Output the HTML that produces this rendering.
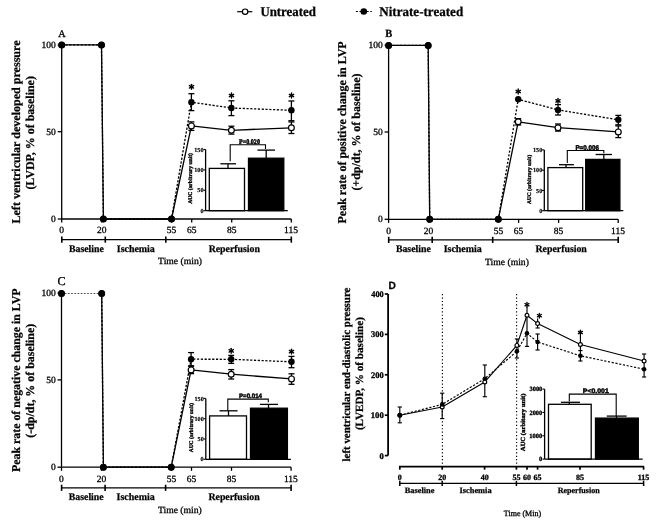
<!DOCTYPE html>
<html><head><meta charset="utf-8"><style>
html,body{margin:0;padding:0;background:#fff;}
svg{display:block;will-change:transform;text-rendering:geometricPrecision;}
</style></head><body>
<svg width="669" height="521" viewBox="0 0 669 521">
<rect width="669" height="521" fill="#fff"/>
<line x1="237.20" y1="11.70" x2="252.30" y2="11.70" stroke="#000" stroke-width="1.2" stroke-linecap="butt"/>
<circle cx="245.10" cy="11.70" r="2.7" fill="#fff" stroke="#000" stroke-width="1.2"/>
<text x="260.39" y="15.60" font-family='"Liberation Serif", serif' font-size="13.5" font-weight="bold" fill="#000" textLength="55.45" lengthAdjust="spacingAndGlyphs" stroke="#000" stroke-width="0.25">Untreated</text>
<line x1="355.90" y1="11.50" x2="371.80" y2="11.50" stroke="#000" stroke-width="1.2" stroke-linecap="butt" stroke-dasharray="2,1.6"/>
<circle cx="363.80" cy="11.50" r="3.3" fill="#000"/>
<text x="379.25" y="15.60" font-family='"Liberation Serif", serif' font-size="13.5" font-weight="bold" fill="#000" textLength="83.90" lengthAdjust="spacingAndGlyphs" stroke="#000" stroke-width="0.25">Nitrate-treated</text>
<text x="58.31" y="36.50" font-family='"Liberation Serif", serif' font-size="10.2" font-weight="normal" fill="#000" textLength="7.36" lengthAdjust="spacingAndGlyphs" stroke="#000" stroke-width="0.3">A</text>
<line x1="61.70" y1="44.90" x2="61.70" y2="219.00" stroke="#000" stroke-width="1.3" stroke-linecap="butt"/>
<line x1="57.70" y1="44.90" x2="61.70" y2="44.90" stroke="#000" stroke-width="1.3" stroke-linecap="butt"/>
<text x="41.61" y="47.80" font-family='"Liberation Serif", serif' font-size="9.5" font-weight="normal" fill="#000" textLength="14.25" lengthAdjust="spacingAndGlyphs" stroke="#000" stroke-width="0.3">100</text>
<line x1="57.70" y1="131.70" x2="61.70" y2="131.70" stroke="#000" stroke-width="1.3" stroke-linecap="butt"/>
<text x="46.36" y="134.60" font-family='"Liberation Serif", serif' font-size="9.5" font-weight="normal" fill="#000" textLength="9.50" lengthAdjust="spacingAndGlyphs" stroke="#000" stroke-width="0.3">50</text>
<line x1="57.70" y1="219.00" x2="61.70" y2="219.00" stroke="#000" stroke-width="1.3" stroke-linecap="butt"/>
<text x="51.11" y="221.90" font-family='"Liberation Serif", serif' font-size="9.5" font-weight="normal" fill="#000" textLength="4.75" lengthAdjust="spacingAndGlyphs" stroke="#000" stroke-width="0.3">0</text>
<line x1="61.70" y1="219.00" x2="291.30" y2="219.00" stroke="#000" stroke-width="1.3" stroke-linecap="butt"/>
<line x1="61.70" y1="219.00" x2="61.70" y2="222.60" stroke="#000" stroke-width="1.3" stroke-linecap="butt"/>
<text x="59.33" y="233.40" font-family='"Liberation Serif", serif' font-size="9.5" font-weight="normal" fill="#000" textLength="4.75" lengthAdjust="spacingAndGlyphs" stroke="#000" stroke-width="0.3">0</text>
<line x1="101.70" y1="219.00" x2="101.70" y2="222.60" stroke="#000" stroke-width="1.3" stroke-linecap="butt"/>
<text x="96.93" y="233.40" font-family='"Liberation Serif", serif' font-size="9.5" font-weight="normal" fill="#000" textLength="9.50" lengthAdjust="spacingAndGlyphs" stroke="#000" stroke-width="0.3">20</text>
<line x1="171.70" y1="219.00" x2="171.70" y2="222.60" stroke="#000" stroke-width="1.3" stroke-linecap="butt"/>
<text x="166.86" y="233.40" font-family='"Liberation Serif", serif' font-size="9.5" font-weight="normal" fill="#000" textLength="9.50" lengthAdjust="spacingAndGlyphs" stroke="#000" stroke-width="0.3">55</text>
<line x1="191.70" y1="219.00" x2="191.70" y2="222.60" stroke="#000" stroke-width="1.3" stroke-linecap="butt"/>
<text x="186.94" y="233.40" font-family='"Liberation Serif", serif' font-size="9.5" font-weight="normal" fill="#000" textLength="9.50" lengthAdjust="spacingAndGlyphs" stroke="#000" stroke-width="0.3">65</text>
<line x1="231.70" y1="219.00" x2="231.70" y2="222.60" stroke="#000" stroke-width="1.3" stroke-linecap="butt"/>
<text x="226.95" y="233.40" font-family='"Liberation Serif", serif' font-size="9.5" font-weight="normal" fill="#000" textLength="9.50" lengthAdjust="spacingAndGlyphs" stroke="#000" stroke-width="0.3">85</text>
<line x1="291.30" y1="219.00" x2="291.30" y2="222.60" stroke="#000" stroke-width="1.3" stroke-linecap="butt"/>
<text x="284.12" y="233.40" font-family='"Liberation Serif", serif' font-size="9.5" font-weight="normal" fill="#000" textLength="13.90" lengthAdjust="spacingAndGlyphs" stroke="#000" stroke-width="0.3">115</text>
<line x1="61.70" y1="239.60" x2="291.30" y2="239.60" stroke="#000" stroke-width="1.3" stroke-linecap="butt"/>
<line x1="61.80" y1="236.50" x2="61.80" y2="242.70" stroke="#000" stroke-width="1.6" stroke-linecap="butt"/>
<line x1="105.30" y1="236.50" x2="105.30" y2="242.70" stroke="#000" stroke-width="1.6" stroke-linecap="butt"/>
<line x1="165.80" y1="236.50" x2="165.80" y2="242.70" stroke="#000" stroke-width="1.6" stroke-linecap="butt"/>
<line x1="291.30" y1="236.50" x2="291.30" y2="242.70" stroke="#000" stroke-width="1.6" stroke-linecap="butt"/>
<text x="69.04" y="251.50" font-family='"Liberation Serif", serif' font-size="10" font-weight="bold" fill="#000" textLength="34.81" lengthAdjust="spacingAndGlyphs" stroke="#000" stroke-width="0.25">Baseline</text>
<text x="116.77" y="251.50" font-family='"Liberation Serif", serif' font-size="10" font-weight="bold" fill="#000" textLength="38.08" lengthAdjust="spacingAndGlyphs" stroke="#000" stroke-width="0.25">Ischemia</text>
<text x="208.63" y="251.50" font-family='"Liberation Serif", serif' font-size="10" font-weight="bold" fill="#000" textLength="51.31" lengthAdjust="spacingAndGlyphs" stroke="#000" stroke-width="0.25">Reperfusion</text>
<text x="158.13" y="264.40" font-family='"Liberation Serif", serif' font-size="9.5" font-weight="normal" fill="#000" textLength="43.89" lengthAdjust="spacingAndGlyphs" stroke="#000" stroke-width="0.3">Time (min)</text>
<text x="20.10" y="223.50" font-family='"Liberation Serif", serif' font-size="12" font-weight="bold" fill="#000" textLength="183.02" lengthAdjust="spacingAndGlyphs" transform="rotate(-90 20.10 223.50)" stroke="#000" stroke-width="0.25">Left ventricular developed pressure</text>
<text x="34.10" y="189.61" font-family='"Liberation Serif", serif' font-size="12" font-weight="bold" fill="#000" textLength="113.54" lengthAdjust="spacingAndGlyphs" transform="rotate(-90 34.10 189.61)" stroke="#000" stroke-width="0.25">(LVDP, % of baseline)</text>
<text x="385.13" y="36.80" font-family='"Liberation Serif", serif' font-size="11" font-weight="bold" fill="#000" textLength="6.95" lengthAdjust="spacingAndGlyphs" stroke="#000" stroke-width="0.25">B</text>
<line x1="388.60" y1="45.20" x2="388.60" y2="219.30" stroke="#000" stroke-width="1.3" stroke-linecap="butt"/>
<line x1="384.60" y1="45.20" x2="388.60" y2="45.20" stroke="#000" stroke-width="1.3" stroke-linecap="butt"/>
<text x="368.51" y="48.10" font-family='"Liberation Serif", serif' font-size="9.5" font-weight="normal" fill="#000" textLength="14.25" lengthAdjust="spacingAndGlyphs" stroke="#000" stroke-width="0.3">100</text>
<line x1="384.60" y1="132.00" x2="388.60" y2="132.00" stroke="#000" stroke-width="1.3" stroke-linecap="butt"/>
<text x="373.26" y="134.90" font-family='"Liberation Serif", serif' font-size="9.5" font-weight="normal" fill="#000" textLength="9.50" lengthAdjust="spacingAndGlyphs" stroke="#000" stroke-width="0.3">50</text>
<line x1="384.60" y1="219.30" x2="388.60" y2="219.30" stroke="#000" stroke-width="1.3" stroke-linecap="butt"/>
<text x="378.01" y="222.20" font-family='"Liberation Serif", serif' font-size="9.5" font-weight="normal" fill="#000" textLength="4.75" lengthAdjust="spacingAndGlyphs" stroke="#000" stroke-width="0.3">0</text>
<line x1="388.60" y1="219.30" x2="618.20" y2="219.30" stroke="#000" stroke-width="1.3" stroke-linecap="butt"/>
<line x1="388.60" y1="219.30" x2="388.60" y2="222.90" stroke="#000" stroke-width="1.3" stroke-linecap="butt"/>
<text x="386.22" y="233.70" font-family='"Liberation Serif", serif' font-size="9.5" font-weight="normal" fill="#000" textLength="4.75" lengthAdjust="spacingAndGlyphs" stroke="#000" stroke-width="0.3">0</text>
<line x1="428.60" y1="219.30" x2="428.60" y2="222.90" stroke="#000" stroke-width="1.3" stroke-linecap="butt"/>
<text x="423.83" y="233.70" font-family='"Liberation Serif", serif' font-size="9.5" font-weight="normal" fill="#000" textLength="9.50" lengthAdjust="spacingAndGlyphs" stroke="#000" stroke-width="0.3">20</text>
<line x1="498.60" y1="219.30" x2="498.60" y2="222.90" stroke="#000" stroke-width="1.3" stroke-linecap="butt"/>
<text x="493.76" y="233.70" font-family='"Liberation Serif", serif' font-size="9.5" font-weight="normal" fill="#000" textLength="9.50" lengthAdjust="spacingAndGlyphs" stroke="#000" stroke-width="0.3">55</text>
<line x1="518.60" y1="219.30" x2="518.60" y2="222.90" stroke="#000" stroke-width="1.3" stroke-linecap="butt"/>
<text x="513.84" y="233.70" font-family='"Liberation Serif", serif' font-size="9.5" font-weight="normal" fill="#000" textLength="9.50" lengthAdjust="spacingAndGlyphs" stroke="#000" stroke-width="0.3">65</text>
<line x1="558.60" y1="219.30" x2="558.60" y2="222.90" stroke="#000" stroke-width="1.3" stroke-linecap="butt"/>
<text x="553.85" y="233.70" font-family='"Liberation Serif", serif' font-size="9.5" font-weight="normal" fill="#000" textLength="9.50" lengthAdjust="spacingAndGlyphs" stroke="#000" stroke-width="0.3">85</text>
<line x1="618.20" y1="219.30" x2="618.20" y2="222.90" stroke="#000" stroke-width="1.3" stroke-linecap="butt"/>
<text x="611.02" y="233.70" font-family='"Liberation Serif", serif' font-size="9.5" font-weight="normal" fill="#000" textLength="13.90" lengthAdjust="spacingAndGlyphs" stroke="#000" stroke-width="0.3">115</text>
<line x1="388.60" y1="239.90" x2="618.20" y2="239.90" stroke="#000" stroke-width="1.3" stroke-linecap="butt"/>
<line x1="388.70" y1="236.80" x2="388.70" y2="243.00" stroke="#000" stroke-width="1.6" stroke-linecap="butt"/>
<line x1="432.20" y1="236.80" x2="432.20" y2="243.00" stroke="#000" stroke-width="1.6" stroke-linecap="butt"/>
<line x1="492.70" y1="236.80" x2="492.70" y2="243.00" stroke="#000" stroke-width="1.6" stroke-linecap="butt"/>
<line x1="618.20" y1="236.80" x2="618.20" y2="243.00" stroke="#000" stroke-width="1.6" stroke-linecap="butt"/>
<text x="395.94" y="251.80" font-family='"Liberation Serif", serif' font-size="10" font-weight="bold" fill="#000" textLength="34.81" lengthAdjust="spacingAndGlyphs" stroke="#000" stroke-width="0.25">Baseline</text>
<text x="443.67" y="251.80" font-family='"Liberation Serif", serif' font-size="10" font-weight="bold" fill="#000" textLength="38.08" lengthAdjust="spacingAndGlyphs" stroke="#000" stroke-width="0.25">Ischemia</text>
<text x="535.53" y="251.80" font-family='"Liberation Serif", serif' font-size="10" font-weight="bold" fill="#000" textLength="51.31" lengthAdjust="spacingAndGlyphs" stroke="#000" stroke-width="0.25">Reperfusion</text>
<text x="485.03" y="264.70" font-family='"Liberation Serif", serif' font-size="9.5" font-weight="normal" fill="#000" textLength="43.89" lengthAdjust="spacingAndGlyphs" stroke="#000" stroke-width="0.3">Time (min)</text>
<text x="346.40" y="223.50" font-family='"Liberation Serif", serif' font-size="12" font-weight="bold" fill="#000" textLength="182.13" lengthAdjust="spacingAndGlyphs" transform="rotate(-90 346.40 223.50)" stroke="#000" stroke-width="0.25">Peak rate of positive change in LVP</text>
<text x="359.90" y="190.61" font-family='"Liberation Serif", serif' font-size="12" font-weight="bold" fill="#000" textLength="117.13" lengthAdjust="spacingAndGlyphs" transform="rotate(-90 359.90 190.61)" stroke="#000" stroke-width="0.25">(+dp/dt, % of baseline)</text>
<text x="57.50" y="285.30" font-family='"Liberation Serif", serif' font-size="12" font-weight="normal" fill="#000" textLength="8.18" lengthAdjust="spacingAndGlyphs" stroke="#000" stroke-width="0.3">C</text>
<line x1="61.50" y1="293.10" x2="61.50" y2="467.20" stroke="#000" stroke-width="1.3" stroke-linecap="butt"/>
<line x1="57.50" y1="293.10" x2="61.50" y2="293.10" stroke="#000" stroke-width="1.3" stroke-linecap="butt"/>
<text x="41.41" y="296.00" font-family='"Liberation Serif", serif' font-size="9.5" font-weight="normal" fill="#000" textLength="14.25" lengthAdjust="spacingAndGlyphs" stroke="#000" stroke-width="0.3">100</text>
<line x1="57.50" y1="379.90" x2="61.50" y2="379.90" stroke="#000" stroke-width="1.3" stroke-linecap="butt"/>
<text x="46.16" y="382.80" font-family='"Liberation Serif", serif' font-size="9.5" font-weight="normal" fill="#000" textLength="9.50" lengthAdjust="spacingAndGlyphs" stroke="#000" stroke-width="0.3">50</text>
<line x1="57.50" y1="467.20" x2="61.50" y2="467.20" stroke="#000" stroke-width="1.3" stroke-linecap="butt"/>
<text x="50.91" y="470.10" font-family='"Liberation Serif", serif' font-size="9.5" font-weight="normal" fill="#000" textLength="4.75" lengthAdjust="spacingAndGlyphs" stroke="#000" stroke-width="0.3">0</text>
<line x1="61.50" y1="467.20" x2="291.10" y2="467.20" stroke="#000" stroke-width="1.3" stroke-linecap="butt"/>
<line x1="61.50" y1="467.20" x2="61.50" y2="470.80" stroke="#000" stroke-width="1.3" stroke-linecap="butt"/>
<text x="59.12" y="481.60" font-family='"Liberation Serif", serif' font-size="9.5" font-weight="normal" fill="#000" textLength="4.75" lengthAdjust="spacingAndGlyphs" stroke="#000" stroke-width="0.3">0</text>
<line x1="101.50" y1="467.20" x2="101.50" y2="470.80" stroke="#000" stroke-width="1.3" stroke-linecap="butt"/>
<text x="96.73" y="481.60" font-family='"Liberation Serif", serif' font-size="9.5" font-weight="normal" fill="#000" textLength="9.50" lengthAdjust="spacingAndGlyphs" stroke="#000" stroke-width="0.3">20</text>
<line x1="171.50" y1="467.20" x2="171.50" y2="470.80" stroke="#000" stroke-width="1.3" stroke-linecap="butt"/>
<text x="166.66" y="481.60" font-family='"Liberation Serif", serif' font-size="9.5" font-weight="normal" fill="#000" textLength="9.50" lengthAdjust="spacingAndGlyphs" stroke="#000" stroke-width="0.3">55</text>
<line x1="191.50" y1="467.20" x2="191.50" y2="470.80" stroke="#000" stroke-width="1.3" stroke-linecap="butt"/>
<text x="186.74" y="481.60" font-family='"Liberation Serif", serif' font-size="9.5" font-weight="normal" fill="#000" textLength="9.50" lengthAdjust="spacingAndGlyphs" stroke="#000" stroke-width="0.3">65</text>
<line x1="231.50" y1="467.20" x2="231.50" y2="470.80" stroke="#000" stroke-width="1.3" stroke-linecap="butt"/>
<text x="226.75" y="481.60" font-family='"Liberation Serif", serif' font-size="9.5" font-weight="normal" fill="#000" textLength="9.50" lengthAdjust="spacingAndGlyphs" stroke="#000" stroke-width="0.3">85</text>
<line x1="291.10" y1="467.20" x2="291.10" y2="470.80" stroke="#000" stroke-width="1.3" stroke-linecap="butt"/>
<text x="283.92" y="481.60" font-family='"Liberation Serif", serif' font-size="9.5" font-weight="normal" fill="#000" textLength="13.90" lengthAdjust="spacingAndGlyphs" stroke="#000" stroke-width="0.3">115</text>
<line x1="61.50" y1="487.80" x2="291.10" y2="487.80" stroke="#000" stroke-width="1.3" stroke-linecap="butt"/>
<line x1="61.60" y1="484.70" x2="61.60" y2="490.90" stroke="#000" stroke-width="1.6" stroke-linecap="butt"/>
<line x1="105.10" y1="484.70" x2="105.10" y2="490.90" stroke="#000" stroke-width="1.6" stroke-linecap="butt"/>
<line x1="165.60" y1="484.70" x2="165.60" y2="490.90" stroke="#000" stroke-width="1.6" stroke-linecap="butt"/>
<line x1="291.10" y1="484.70" x2="291.10" y2="490.90" stroke="#000" stroke-width="1.6" stroke-linecap="butt"/>
<text x="68.84" y="499.70" font-family='"Liberation Serif", serif' font-size="10" font-weight="bold" fill="#000" textLength="34.81" lengthAdjust="spacingAndGlyphs" stroke="#000" stroke-width="0.25">Baseline</text>
<text x="116.57" y="499.70" font-family='"Liberation Serif", serif' font-size="10" font-weight="bold" fill="#000" textLength="38.08" lengthAdjust="spacingAndGlyphs" stroke="#000" stroke-width="0.25">Ischemia</text>
<text x="208.43" y="499.70" font-family='"Liberation Serif", serif' font-size="10" font-weight="bold" fill="#000" textLength="51.31" lengthAdjust="spacingAndGlyphs" stroke="#000" stroke-width="0.25">Reperfusion</text>
<text x="157.93" y="512.60" font-family='"Liberation Serif", serif' font-size="9.5" font-weight="normal" fill="#000" textLength="43.89" lengthAdjust="spacingAndGlyphs" stroke="#000" stroke-width="0.3">Time (min)</text>
<text x="19.90" y="472.00" font-family='"Liberation Serif", serif' font-size="12" font-weight="bold" fill="#000" textLength="183.53" lengthAdjust="spacingAndGlyphs" transform="rotate(-90 19.90 472.00)" stroke="#000" stroke-width="0.25">Peak rate of negative change in LVP</text>
<text x="33.90" y="437.71" font-family='"Liberation Serif", serif' font-size="12" font-weight="bold" fill="#000" textLength="113.93" lengthAdjust="spacingAndGlyphs" transform="rotate(-90 33.90 437.71)" stroke="#000" stroke-width="0.25">(-dp/dt, % of baseline)</text>
<rect x="209.30" y="168.40" width="35.20" height="42.30" fill="#fff" stroke="#000" stroke-width="1.3"/>
<rect x="248.50" y="158.20" width="35.30" height="52.50" fill="#000" stroke="#000" stroke-width="1.3"/>
<line x1="228.00" y1="168.40" x2="228.00" y2="163.80" stroke="#000" stroke-width="1.3" stroke-linecap="butt"/>
<line x1="220.40" y1="163.80" x2="236.00" y2="163.80" stroke="#000" stroke-width="1.3" stroke-linecap="butt"/>
<line x1="266.20" y1="158.20" x2="266.20" y2="150.10" stroke="#000" stroke-width="1.3" stroke-linecap="butt"/>
<line x1="257.40" y1="150.10" x2="275.00" y2="150.10" stroke="#000" stroke-width="1.3" stroke-linecap="butt"/>
<line x1="205.60" y1="149.50" x2="205.60" y2="210.70" stroke="#000" stroke-width="1.3" stroke-linecap="butt"/>
<line x1="205.60" y1="210.70" x2="287.80" y2="210.70" stroke="#000" stroke-width="1.3" stroke-linecap="butt"/>
<line x1="203.40" y1="149.50" x2="205.60" y2="149.50" stroke="#000" stroke-width="1.1" stroke-linecap="butt"/>
<text x="194.24" y="151.60" font-family='"Liberation Serif", serif' font-size="6.2" font-weight="bold" fill="#000" textLength="9.30" lengthAdjust="spacingAndGlyphs" stroke="#000" stroke-width="0.15">150</text>
<line x1="203.40" y1="169.90" x2="205.60" y2="169.90" stroke="#000" stroke-width="1.1" stroke-linecap="butt"/>
<text x="194.24" y="172.00" font-family='"Liberation Serif", serif' font-size="6.2" font-weight="bold" fill="#000" textLength="9.30" lengthAdjust="spacingAndGlyphs" stroke="#000" stroke-width="0.15">100</text>
<line x1="203.40" y1="190.30" x2="205.60" y2="190.30" stroke="#000" stroke-width="1.1" stroke-linecap="butt"/>
<text x="197.34" y="192.40" font-family='"Liberation Serif", serif' font-size="6.2" font-weight="bold" fill="#000" textLength="6.20" lengthAdjust="spacingAndGlyphs" stroke="#000" stroke-width="0.15">50</text>
<line x1="203.40" y1="210.70" x2="205.60" y2="210.70" stroke="#000" stroke-width="1.1" stroke-linecap="butt"/>
<text x="200.44" y="212.80" font-family='"Liberation Serif", serif' font-size="6.2" font-weight="bold" fill="#000" textLength="3.10" lengthAdjust="spacingAndGlyphs" stroke="#000" stroke-width="0.15">0</text>
<polyline points="230.20,161.30 230.20,144.70 265.50,144.70 265.50,149.00" fill="none" stroke="#000" stroke-width="1.1" stroke-linejoin="miter"/>
<text x="239.00" y="143.60" font-family='"Liberation Serif", serif' font-size="7.0" font-weight="bold" fill="#000" textLength="20.93" lengthAdjust="spacingAndGlyphs" stroke="#000" stroke-width="0.45">P=0.020</text>
<text x="192.30" y="203.85" font-family='"Liberation Serif", serif' font-size="5.6" font-weight="bold" fill="#000" textLength="50.79" lengthAdjust="spacingAndGlyphs" transform="rotate(-90 192.30 203.85)" stroke="#000" stroke-width="0.35">AUC (arbitrary unit)</text>
<rect x="547.90" y="167.60" width="34.80" height="43.10" fill="#fff" stroke="#000" stroke-width="1.3"/>
<rect x="585.70" y="159.40" width="34.20" height="51.30" fill="#000" stroke="#000" stroke-width="1.3"/>
<line x1="566.00" y1="167.60" x2="566.00" y2="164.70" stroke="#000" stroke-width="1.3" stroke-linecap="butt"/>
<line x1="559.00" y1="164.70" x2="573.90" y2="164.70" stroke="#000" stroke-width="1.3" stroke-linecap="butt"/>
<line x1="603.80" y1="159.40" x2="603.80" y2="154.50" stroke="#000" stroke-width="1.3" stroke-linecap="butt"/>
<line x1="595.60" y1="154.50" x2="612.00" y2="154.50" stroke="#000" stroke-width="1.3" stroke-linecap="butt"/>
<line x1="544.30" y1="149.90" x2="544.30" y2="210.70" stroke="#000" stroke-width="1.3" stroke-linecap="butt"/>
<line x1="544.30" y1="210.70" x2="623.30" y2="210.70" stroke="#000" stroke-width="1.3" stroke-linecap="butt"/>
<line x1="542.10" y1="149.90" x2="544.30" y2="149.90" stroke="#000" stroke-width="1.1" stroke-linecap="butt"/>
<text x="532.94" y="152.00" font-family='"Liberation Serif", serif' font-size="6.2" font-weight="bold" fill="#000" textLength="9.30" lengthAdjust="spacingAndGlyphs" stroke="#000" stroke-width="0.15">150</text>
<line x1="542.10" y1="170.17" x2="544.30" y2="170.17" stroke="#000" stroke-width="1.1" stroke-linecap="butt"/>
<text x="532.94" y="172.27" font-family='"Liberation Serif", serif' font-size="6.2" font-weight="bold" fill="#000" textLength="9.30" lengthAdjust="spacingAndGlyphs" stroke="#000" stroke-width="0.15">100</text>
<line x1="542.10" y1="190.43" x2="544.30" y2="190.43" stroke="#000" stroke-width="1.1" stroke-linecap="butt"/>
<text x="536.04" y="192.53" font-family='"Liberation Serif", serif' font-size="6.2" font-weight="bold" fill="#000" textLength="6.20" lengthAdjust="spacingAndGlyphs" stroke="#000" stroke-width="0.15">50</text>
<line x1="542.10" y1="210.70" x2="544.30" y2="210.70" stroke="#000" stroke-width="1.1" stroke-linecap="butt"/>
<text x="539.14" y="212.80" font-family='"Liberation Serif", serif' font-size="6.2" font-weight="bold" fill="#000" textLength="3.10" lengthAdjust="spacingAndGlyphs" stroke="#000" stroke-width="0.15">0</text>
<polyline points="567.30,163.00 567.30,150.50 603.80,150.50 603.80,153.20" fill="none" stroke="#000" stroke-width="1.1" stroke-linejoin="miter"/>
<text x="575.39" y="149.90" font-family='"Liberation Sans", sans-serif' font-size="6.8" font-weight="bold" fill="#000" textLength="23.54" lengthAdjust="spacingAndGlyphs" stroke="#000" stroke-width="0.45">P=0.006</text>
<text x="531.20" y="204.05" font-family='"Liberation Serif", serif' font-size="5.6" font-weight="bold" fill="#000" textLength="49.28" lengthAdjust="spacingAndGlyphs" transform="rotate(-90 531.20 204.05)" stroke="#000" stroke-width="0.35">AUC (arbitrary unit)</text>
<rect x="209.60" y="415.90" width="36.90" height="43.40" fill="#fff" stroke="#000" stroke-width="1.3"/>
<rect x="250.50" y="408.20" width="36.90" height="51.10" fill="#000" stroke="#000" stroke-width="1.3"/>
<line x1="228.50" y1="415.90" x2="228.50" y2="410.80" stroke="#000" stroke-width="1.3" stroke-linecap="butt"/>
<line x1="219.50" y1="410.80" x2="237.60" y2="410.80" stroke="#000" stroke-width="1.3" stroke-linecap="butt"/>
<line x1="268.50" y1="408.20" x2="268.50" y2="404.40" stroke="#000" stroke-width="1.3" stroke-linecap="butt"/>
<line x1="259.90" y1="404.40" x2="278.00" y2="404.40" stroke="#000" stroke-width="1.3" stroke-linecap="butt"/>
<line x1="205.80" y1="398.40" x2="205.80" y2="459.30" stroke="#000" stroke-width="1.3" stroke-linecap="butt"/>
<line x1="205.80" y1="459.30" x2="290.90" y2="459.30" stroke="#000" stroke-width="1.3" stroke-linecap="butt"/>
<line x1="203.60" y1="398.40" x2="205.80" y2="398.40" stroke="#000" stroke-width="1.1" stroke-linecap="butt"/>
<text x="194.44" y="400.50" font-family='"Liberation Serif", serif' font-size="6.2" font-weight="bold" fill="#000" textLength="9.30" lengthAdjust="spacingAndGlyphs" stroke="#000" stroke-width="0.15">150</text>
<line x1="203.60" y1="418.70" x2="205.80" y2="418.70" stroke="#000" stroke-width="1.1" stroke-linecap="butt"/>
<text x="194.44" y="420.80" font-family='"Liberation Serif", serif' font-size="6.2" font-weight="bold" fill="#000" textLength="9.30" lengthAdjust="spacingAndGlyphs" stroke="#000" stroke-width="0.15">100</text>
<line x1="203.60" y1="439.00" x2="205.80" y2="439.00" stroke="#000" stroke-width="1.1" stroke-linecap="butt"/>
<text x="197.54" y="441.10" font-family='"Liberation Serif", serif' font-size="6.2" font-weight="bold" fill="#000" textLength="6.20" lengthAdjust="spacingAndGlyphs" stroke="#000" stroke-width="0.15">50</text>
<line x1="203.60" y1="459.30" x2="205.80" y2="459.30" stroke="#000" stroke-width="1.1" stroke-linecap="butt"/>
<text x="200.64" y="461.40" font-family='"Liberation Serif", serif' font-size="6.2" font-weight="bold" fill="#000" textLength="3.10" lengthAdjust="spacingAndGlyphs" stroke="#000" stroke-width="0.15">0</text>
<polyline points="227.80,410.80 227.80,399.10 268.30,399.10 268.30,402.20" fill="none" stroke="#000" stroke-width="1.1" stroke-linejoin="miter"/>
<text x="238.99" y="397.60" font-family='"Liberation Sans", sans-serif' font-size="6.4" font-weight="bold" fill="#000" textLength="23.04" lengthAdjust="spacingAndGlyphs" stroke="#000" stroke-width="0.45">P=0.014</text>
<text x="192.60" y="452.25" font-family='"Liberation Serif", serif' font-size="5.6" font-weight="bold" fill="#000" textLength="49.28" lengthAdjust="spacingAndGlyphs" transform="rotate(-90 192.60 452.25)" stroke="#000" stroke-width="0.35">AUC (arbitrary unit)</text>
<polyline points="61.70,44.90 101.50,44.90 103.40,219.00 171.50,219.00 191.40,125.90 231.40,130.30 291.40,127.80" fill="none" stroke="#000" stroke-width="1.3" stroke-linejoin="round"/>
<polyline points="61.70,44.90 101.50,44.90 103.40,219.00 171.50,219.00 191.40,102.20 231.40,108.00 291.40,110.30" fill="none" stroke="#000" stroke-width="1.3" stroke-linejoin="round" stroke-dasharray="2.2,1.6"/>
<line x1="191.40" y1="121.90" x2="191.40" y2="130.40" stroke="#000" stroke-width="1.3" stroke-linecap="butt"/>
<line x1="188.40" y1="121.90" x2="194.40" y2="121.90" stroke="#000" stroke-width="1.3" stroke-linecap="butt"/>
<line x1="188.40" y1="130.40" x2="194.40" y2="130.40" stroke="#000" stroke-width="1.3" stroke-linecap="butt"/>
<line x1="231.40" y1="126.20" x2="231.40" y2="134.10" stroke="#000" stroke-width="1.3" stroke-linecap="butt"/>
<line x1="228.40" y1="126.20" x2="234.40" y2="126.20" stroke="#000" stroke-width="1.3" stroke-linecap="butt"/>
<line x1="228.40" y1="134.10" x2="234.40" y2="134.10" stroke="#000" stroke-width="1.3" stroke-linecap="butt"/>
<line x1="291.40" y1="121.90" x2="291.40" y2="133.50" stroke="#000" stroke-width="1.3" stroke-linecap="butt"/>
<line x1="288.40" y1="121.90" x2="294.40" y2="121.90" stroke="#000" stroke-width="1.3" stroke-linecap="butt"/>
<line x1="288.40" y1="133.50" x2="294.40" y2="133.50" stroke="#000" stroke-width="1.3" stroke-linecap="butt"/>
<line x1="191.40" y1="93.70" x2="191.40" y2="110.60" stroke="#000" stroke-width="1.3" stroke-linecap="butt"/>
<line x1="188.40" y1="93.70" x2="194.40" y2="93.70" stroke="#000" stroke-width="1.3" stroke-linecap="butt"/>
<line x1="188.40" y1="110.60" x2="194.40" y2="110.60" stroke="#000" stroke-width="1.3" stroke-linecap="butt"/>
<line x1="231.40" y1="100.80" x2="231.40" y2="115.60" stroke="#000" stroke-width="1.3" stroke-linecap="butt"/>
<line x1="228.40" y1="100.80" x2="234.40" y2="100.80" stroke="#000" stroke-width="1.3" stroke-linecap="butt"/>
<line x1="228.40" y1="115.60" x2="234.40" y2="115.60" stroke="#000" stroke-width="1.3" stroke-linecap="butt"/>
<line x1="291.40" y1="101.00" x2="291.40" y2="120.70" stroke="#000" stroke-width="1.3" stroke-linecap="butt"/>
<line x1="288.40" y1="101.00" x2="294.40" y2="101.00" stroke="#000" stroke-width="1.3" stroke-linecap="butt"/>
<line x1="288.40" y1="120.70" x2="294.40" y2="120.70" stroke="#000" stroke-width="1.3" stroke-linecap="butt"/>
<circle cx="61.70" cy="44.90" r="2.9" fill="#fff" stroke="#000" stroke-width="1.2"/>
<circle cx="101.50" cy="44.90" r="2.9" fill="#fff" stroke="#000" stroke-width="1.2"/>
<circle cx="103.40" cy="219.00" r="2.9" fill="#fff" stroke="#000" stroke-width="1.2"/>
<circle cx="171.50" cy="219.00" r="2.9" fill="#fff" stroke="#000" stroke-width="1.2"/>
<circle cx="191.40" cy="125.90" r="2.9" fill="#fff" stroke="#000" stroke-width="1.2"/>
<circle cx="231.40" cy="130.30" r="2.9" fill="#fff" stroke="#000" stroke-width="1.2"/>
<circle cx="291.40" cy="127.80" r="2.9" fill="#fff" stroke="#000" stroke-width="1.2"/>
<circle cx="61.70" cy="44.90" r="3.2" fill="#000"/>
<circle cx="101.50" cy="44.90" r="3.2" fill="#000"/>
<circle cx="103.40" cy="219.00" r="3.2" fill="#000"/>
<circle cx="171.50" cy="219.00" r="3.2" fill="#000"/>
<circle cx="191.40" cy="102.20" r="3.2" fill="#000"/>
<circle cx="231.40" cy="108.00" r="3.2" fill="#000"/>
<circle cx="291.40" cy="110.30" r="3.2" fill="#000"/>
<line x1="191.50" y1="84.35" x2="191.50" y2="89.25" stroke="#000" stroke-width="1.4" stroke-linecap="round"/>
<line x1="189.38" y1="85.58" x2="193.62" y2="88.02" stroke="#000" stroke-width="1.4" stroke-linecap="round"/>
<line x1="193.62" y1="85.58" x2="189.38" y2="88.02" stroke="#000" stroke-width="1.4" stroke-linecap="round"/>
<line x1="231.50" y1="93.05" x2="231.50" y2="97.95" stroke="#000" stroke-width="1.4" stroke-linecap="round"/>
<line x1="229.38" y1="94.28" x2="233.62" y2="96.72" stroke="#000" stroke-width="1.4" stroke-linecap="round"/>
<line x1="233.62" y1="94.28" x2="229.38" y2="96.72" stroke="#000" stroke-width="1.4" stroke-linecap="round"/>
<line x1="291.50" y1="93.05" x2="291.50" y2="97.95" stroke="#000" stroke-width="1.4" stroke-linecap="round"/>
<line x1="289.38" y1="94.28" x2="293.62" y2="96.72" stroke="#000" stroke-width="1.4" stroke-linecap="round"/>
<line x1="293.62" y1="94.28" x2="289.38" y2="96.72" stroke="#000" stroke-width="1.4" stroke-linecap="round"/>
<polyline points="388.60,45.40 428.20,45.40 429.70,219.30 498.30,219.30 518.20,121.80 558.00,127.70 618.30,131.90" fill="none" stroke="#000" stroke-width="1.3" stroke-linejoin="round"/>
<polyline points="388.60,45.40 428.20,45.40 429.70,219.30 498.30,219.30 518.20,99.30 558.00,109.90 618.30,119.80" fill="none" stroke="#000" stroke-width="1.3" stroke-linejoin="round" stroke-dasharray="2.2,1.6"/>
<line x1="518.20" y1="118.70" x2="518.20" y2="125.00" stroke="#000" stroke-width="1.3" stroke-linecap="butt"/>
<line x1="515.20" y1="118.70" x2="521.20" y2="118.70" stroke="#000" stroke-width="1.3" stroke-linecap="butt"/>
<line x1="515.20" y1="125.00" x2="521.20" y2="125.00" stroke="#000" stroke-width="1.3" stroke-linecap="butt"/>
<line x1="558.00" y1="124.00" x2="558.00" y2="131.10" stroke="#000" stroke-width="1.3" stroke-linecap="butt"/>
<line x1="555.00" y1="124.00" x2="561.00" y2="124.00" stroke="#000" stroke-width="1.3" stroke-linecap="butt"/>
<line x1="555.00" y1="131.10" x2="561.00" y2="131.10" stroke="#000" stroke-width="1.3" stroke-linecap="butt"/>
<line x1="618.30" y1="125.90" x2="618.30" y2="137.60" stroke="#000" stroke-width="1.3" stroke-linecap="butt"/>
<line x1="615.30" y1="125.90" x2="621.30" y2="125.90" stroke="#000" stroke-width="1.3" stroke-linecap="butt"/>
<line x1="615.30" y1="137.60" x2="621.30" y2="137.60" stroke="#000" stroke-width="1.3" stroke-linecap="butt"/>
<line x1="558.00" y1="104.60" x2="558.00" y2="115.00" stroke="#000" stroke-width="1.3" stroke-linecap="butt"/>
<line x1="555.00" y1="104.60" x2="561.00" y2="104.60" stroke="#000" stroke-width="1.3" stroke-linecap="butt"/>
<line x1="555.00" y1="115.00" x2="561.00" y2="115.00" stroke="#000" stroke-width="1.3" stroke-linecap="butt"/>
<line x1="618.30" y1="115.40" x2="618.30" y2="124.80" stroke="#000" stroke-width="1.3" stroke-linecap="butt"/>
<line x1="615.30" y1="115.40" x2="621.30" y2="115.40" stroke="#000" stroke-width="1.3" stroke-linecap="butt"/>
<line x1="615.30" y1="124.80" x2="621.30" y2="124.80" stroke="#000" stroke-width="1.3" stroke-linecap="butt"/>
<circle cx="388.60" cy="45.40" r="2.9" fill="#fff" stroke="#000" stroke-width="1.2"/>
<circle cx="428.20" cy="45.40" r="2.9" fill="#fff" stroke="#000" stroke-width="1.2"/>
<circle cx="429.70" cy="219.30" r="2.9" fill="#fff" stroke="#000" stroke-width="1.2"/>
<circle cx="498.30" cy="219.30" r="2.9" fill="#fff" stroke="#000" stroke-width="1.2"/>
<circle cx="518.20" cy="121.80" r="2.9" fill="#fff" stroke="#000" stroke-width="1.2"/>
<circle cx="558.00" cy="127.70" r="2.9" fill="#fff" stroke="#000" stroke-width="1.2"/>
<circle cx="618.30" cy="131.90" r="2.9" fill="#fff" stroke="#000" stroke-width="1.2"/>
<circle cx="388.60" cy="45.40" r="3.2" fill="#000"/>
<circle cx="428.20" cy="45.40" r="3.2" fill="#000"/>
<circle cx="429.70" cy="219.30" r="3.2" fill="#000"/>
<circle cx="498.30" cy="219.30" r="3.2" fill="#000"/>
<circle cx="518.20" cy="99.30" r="3.2" fill="#000"/>
<circle cx="558.00" cy="109.90" r="3.2" fill="#000"/>
<circle cx="618.30" cy="119.80" r="3.2" fill="#000"/>
<line x1="518.20" y1="89.05" x2="518.20" y2="93.95" stroke="#000" stroke-width="1.4" stroke-linecap="round"/>
<line x1="516.08" y1="90.28" x2="520.32" y2="92.72" stroke="#000" stroke-width="1.4" stroke-linecap="round"/>
<line x1="520.32" y1="90.28" x2="516.08" y2="92.72" stroke="#000" stroke-width="1.4" stroke-linecap="round"/>
<line x1="558.00" y1="98.45" x2="558.00" y2="103.35" stroke="#000" stroke-width="1.4" stroke-linecap="round"/>
<line x1="555.88" y1="99.68" x2="560.12" y2="102.12" stroke="#000" stroke-width="1.4" stroke-linecap="round"/>
<line x1="560.12" y1="99.68" x2="555.88" y2="102.12" stroke="#000" stroke-width="1.4" stroke-linecap="round"/>
<polyline points="101.70,293.50 103.40,467.20 171.20,467.20 191.10,369.90 231.20,374.20 291.50,378.90" fill="none" stroke="#000" stroke-width="1.3" stroke-linejoin="round"/>
<polyline points="61.50,293.50 101.70,293.50" fill="none" stroke="#555" stroke-width="1.0" stroke-linejoin="round" stroke-dasharray="1.8,1.4"/>
<polyline points="101.70,293.50 103.40,467.20 171.20,467.20 191.10,359.20 231.20,359.30 291.50,361.80" fill="none" stroke="#000" stroke-width="1.3" stroke-linejoin="round" stroke-dasharray="2.2,1.6"/>
<line x1="191.10" y1="366.20" x2="191.10" y2="373.60" stroke="#000" stroke-width="1.3" stroke-linecap="butt"/>
<line x1="188.10" y1="366.20" x2="194.10" y2="366.20" stroke="#000" stroke-width="1.3" stroke-linecap="butt"/>
<line x1="188.10" y1="373.60" x2="194.10" y2="373.60" stroke="#000" stroke-width="1.3" stroke-linecap="butt"/>
<line x1="231.20" y1="369.60" x2="231.20" y2="379.00" stroke="#000" stroke-width="1.3" stroke-linecap="butt"/>
<line x1="228.20" y1="369.60" x2="234.20" y2="369.60" stroke="#000" stroke-width="1.3" stroke-linecap="butt"/>
<line x1="228.20" y1="379.00" x2="234.20" y2="379.00" stroke="#000" stroke-width="1.3" stroke-linecap="butt"/>
<line x1="291.50" y1="373.80" x2="291.50" y2="384.30" stroke="#000" stroke-width="1.3" stroke-linecap="butt"/>
<line x1="288.50" y1="373.80" x2="294.50" y2="373.80" stroke="#000" stroke-width="1.3" stroke-linecap="butt"/>
<line x1="288.50" y1="384.30" x2="294.50" y2="384.30" stroke="#000" stroke-width="1.3" stroke-linecap="butt"/>
<line x1="191.10" y1="352.60" x2="191.10" y2="365.80" stroke="#000" stroke-width="1.3" stroke-linecap="butt"/>
<line x1="188.10" y1="352.60" x2="194.10" y2="352.60" stroke="#000" stroke-width="1.3" stroke-linecap="butt"/>
<line x1="188.10" y1="365.80" x2="194.10" y2="365.80" stroke="#000" stroke-width="1.3" stroke-linecap="butt"/>
<line x1="231.20" y1="355.40" x2="231.20" y2="363.40" stroke="#000" stroke-width="1.3" stroke-linecap="butt"/>
<line x1="228.20" y1="355.40" x2="234.20" y2="355.40" stroke="#000" stroke-width="1.3" stroke-linecap="butt"/>
<line x1="228.20" y1="363.40" x2="234.20" y2="363.40" stroke="#000" stroke-width="1.3" stroke-linecap="butt"/>
<line x1="291.50" y1="356.40" x2="291.50" y2="367.70" stroke="#000" stroke-width="1.3" stroke-linecap="butt"/>
<line x1="288.50" y1="356.40" x2="294.50" y2="356.40" stroke="#000" stroke-width="1.3" stroke-linecap="butt"/>
<line x1="288.50" y1="367.70" x2="294.50" y2="367.70" stroke="#000" stroke-width="1.3" stroke-linecap="butt"/>
<circle cx="61.50" cy="293.50" r="2.9" fill="#fff" stroke="#000" stroke-width="1.2"/>
<circle cx="101.70" cy="293.50" r="2.9" fill="#fff" stroke="#000" stroke-width="1.2"/>
<circle cx="103.40" cy="467.20" r="2.9" fill="#fff" stroke="#000" stroke-width="1.2"/>
<circle cx="171.20" cy="467.20" r="2.9" fill="#fff" stroke="#000" stroke-width="1.2"/>
<circle cx="191.10" cy="369.90" r="2.9" fill="#fff" stroke="#000" stroke-width="1.2"/>
<circle cx="231.20" cy="374.20" r="2.9" fill="#fff" stroke="#000" stroke-width="1.2"/>
<circle cx="291.50" cy="378.90" r="2.9" fill="#fff" stroke="#000" stroke-width="1.2"/>
<circle cx="61.50" cy="293.50" r="3.2" fill="#000"/>
<circle cx="101.70" cy="293.50" r="3.2" fill="#000"/>
<circle cx="103.40" cy="467.20" r="3.2" fill="#000"/>
<circle cx="171.20" cy="467.20" r="3.2" fill="#000"/>
<circle cx="191.10" cy="359.20" r="3.2" fill="#000"/>
<circle cx="231.20" cy="359.30" r="3.2" fill="#000"/>
<circle cx="291.50" cy="361.80" r="3.2" fill="#000"/>
<line x1="231.20" y1="348.35" x2="231.20" y2="353.25" stroke="#000" stroke-width="1.4" stroke-linecap="round"/>
<line x1="229.08" y1="349.57" x2="233.32" y2="352.03" stroke="#000" stroke-width="1.4" stroke-linecap="round"/>
<line x1="233.32" y1="349.57" x2="229.08" y2="352.03" stroke="#000" stroke-width="1.4" stroke-linecap="round"/>
<line x1="291.50" y1="349.15" x2="291.50" y2="354.05" stroke="#000" stroke-width="1.4" stroke-linecap="round"/>
<line x1="289.38" y1="350.38" x2="293.62" y2="352.83" stroke="#000" stroke-width="1.4" stroke-linecap="round"/>
<line x1="293.62" y1="350.38" x2="289.38" y2="352.83" stroke="#000" stroke-width="1.4" stroke-linecap="round"/>
<text x="388.62" y="288.60" font-family='"Liberation Sans", sans-serif' font-size="10.5" font-weight="bold" fill="#000" textLength="7.40" lengthAdjust="spacingAndGlyphs" stroke="#000" stroke-width="0.25">D</text>
<line x1="388.10" y1="294.00" x2="388.10" y2="455.60" stroke="#000" stroke-width="1.8" stroke-linecap="butt"/>
<line x1="384.80" y1="294.00" x2="388.10" y2="294.00" stroke="#000" stroke-width="1.7" stroke-linecap="butt"/>
<text x="371.29" y="296.90" font-family='"Liberation Serif", serif' font-size="8.6" font-weight="bold" fill="#000" textLength="12.42" lengthAdjust="spacingAndGlyphs" stroke="#000" stroke-width="0.3">400</text>
<line x1="384.80" y1="334.40" x2="388.10" y2="334.40" stroke="#000" stroke-width="1.7" stroke-linecap="butt"/>
<text x="371.09" y="337.30" font-family='"Liberation Serif", serif' font-size="8.6" font-weight="bold" fill="#000" textLength="12.63" lengthAdjust="spacingAndGlyphs" stroke="#000" stroke-width="0.3">300</text>
<line x1="384.80" y1="374.80" x2="388.10" y2="374.80" stroke="#000" stroke-width="1.7" stroke-linecap="butt"/>
<text x="371.05" y="377.70" font-family='"Liberation Serif", serif' font-size="8.6" font-weight="bold" fill="#000" textLength="12.68" lengthAdjust="spacingAndGlyphs" stroke="#000" stroke-width="0.3">200</text>
<line x1="384.80" y1="415.20" x2="388.10" y2="415.20" stroke="#000" stroke-width="1.7" stroke-linecap="butt"/>
<text x="370.71" y="418.10" font-family='"Liberation Serif", serif' font-size="8.6" font-weight="bold" fill="#000" textLength="13.02" lengthAdjust="spacingAndGlyphs" stroke="#000" stroke-width="0.3">100</text>
<line x1="384.80" y1="455.60" x2="388.10" y2="455.60" stroke="#000" stroke-width="1.7" stroke-linecap="butt"/>
<text x="379.43" y="458.50" font-family='"Liberation Serif", serif' font-size="8.6" font-weight="bold" fill="#000" textLength="4.30" lengthAdjust="spacingAndGlyphs" stroke="#000" stroke-width="0.3">0</text>
<line x1="399.00" y1="466.70" x2="644.10" y2="466.70" stroke="#000" stroke-width="1.8" stroke-linecap="butt"/>
<line x1="399.80" y1="466.70" x2="399.80" y2="469.70" stroke="#000" stroke-width="1.7" stroke-linecap="butt"/>
<text x="397.80" y="480.00" font-family='"Liberation Serif", serif' font-size="8.0" font-weight="bold" fill="#000" textLength="4.00" lengthAdjust="spacingAndGlyphs" stroke="#000" stroke-width="0.3">0</text>
<line x1="442.20" y1="466.70" x2="442.20" y2="469.70" stroke="#000" stroke-width="1.7" stroke-linecap="butt"/>
<text x="438.18" y="480.00" font-family='"Liberation Serif", serif' font-size="8.0" font-weight="bold" fill="#000" textLength="8.00" lengthAdjust="spacingAndGlyphs" stroke="#000" stroke-width="0.3">20</text>
<line x1="484.60" y1="466.70" x2="484.60" y2="469.70" stroke="#000" stroke-width="1.7" stroke-linecap="butt"/>
<text x="480.70" y="480.00" font-family='"Liberation Serif", serif' font-size="8.0" font-weight="bold" fill="#000" textLength="8.00" lengthAdjust="spacingAndGlyphs" stroke="#000" stroke-width="0.3">40</text>
<line x1="516.40" y1="466.70" x2="516.40" y2="469.70" stroke="#000" stroke-width="1.7" stroke-linecap="butt"/>
<text x="512.38" y="480.00" font-family='"Liberation Serif", serif' font-size="8.0" font-weight="bold" fill="#000" textLength="8.00" lengthAdjust="spacingAndGlyphs" stroke="#000" stroke-width="0.3">55</text>
<line x1="527.00" y1="466.70" x2="527.00" y2="469.70" stroke="#000" stroke-width="1.7" stroke-linecap="butt"/>
<text x="523.02" y="480.00" font-family='"Liberation Serif", serif' font-size="8.0" font-weight="bold" fill="#000" textLength="8.00" lengthAdjust="spacingAndGlyphs" stroke="#000" stroke-width="0.3">60</text>
<line x1="537.60" y1="466.70" x2="537.60" y2="469.70" stroke="#000" stroke-width="1.7" stroke-linecap="butt"/>
<text x="533.61" y="480.00" font-family='"Liberation Serif", serif' font-size="8.0" font-weight="bold" fill="#000" textLength="8.00" lengthAdjust="spacingAndGlyphs" stroke="#000" stroke-width="0.3">65</text>
<line x1="580.00" y1="466.70" x2="580.00" y2="469.70" stroke="#000" stroke-width="1.7" stroke-linecap="butt"/>
<text x="576.01" y="480.00" font-family='"Liberation Serif", serif' font-size="8.0" font-weight="bold" fill="#000" textLength="8.00" lengthAdjust="spacingAndGlyphs" stroke="#000" stroke-width="0.3">85</text>
<line x1="643.60" y1="466.70" x2="643.60" y2="469.70" stroke="#000" stroke-width="1.7" stroke-linecap="butt"/>
<text x="637.64" y="480.00" font-family='"Liberation Serif", serif' font-size="8.0" font-weight="bold" fill="#000" textLength="11.56" lengthAdjust="spacingAndGlyphs" stroke="#000" stroke-width="0.3">115</text>
<line x1="442.40" y1="294.00" x2="442.40" y2="466.70" stroke="#000" stroke-width="1.15" stroke-linecap="butt" stroke-dasharray="1.2,2.24"/>
<line x1="516.60" y1="294.00" x2="516.60" y2="466.70" stroke="#000" stroke-width="1.15" stroke-linecap="butt" stroke-dasharray="1.2,2.24"/>
<line x1="399.80" y1="483.40" x2="643.60" y2="483.40" stroke="#000" stroke-width="1.3" stroke-linecap="butt"/>
<line x1="399.80" y1="480.80" x2="399.80" y2="486.00" stroke="#000" stroke-width="1.5" stroke-linecap="butt"/>
<line x1="442.20" y1="480.80" x2="442.20" y2="486.00" stroke="#000" stroke-width="1.5" stroke-linecap="butt"/>
<line x1="516.40" y1="480.80" x2="516.40" y2="486.00" stroke="#000" stroke-width="1.5" stroke-linecap="butt"/>
<line x1="643.60" y1="480.80" x2="643.60" y2="486.00" stroke="#000" stroke-width="1.5" stroke-linecap="butt"/>
<text x="404.77" y="493.00" font-family='"Liberation Serif", serif' font-size="8.2" font-weight="bold" fill="#000" textLength="29.65" lengthAdjust="spacingAndGlyphs" stroke="#000" stroke-width="0.25">Baseline</text>
<text x="459.52" y="493.00" font-family='"Liberation Serif", serif' font-size="8.2" font-weight="bold" fill="#000" textLength="32.10" lengthAdjust="spacingAndGlyphs" stroke="#000" stroke-width="0.25">Ischemia</text>
<text x="557.66" y="493.00" font-family='"Liberation Serif", serif' font-size="8.2" font-weight="bold" fill="#000" textLength="42.05" lengthAdjust="spacingAndGlyphs" stroke="#000" stroke-width="0.25">Reperfusion</text>
<text x="503.86" y="515.50" font-family='"Liberation Serif", serif' font-size="8.2" font-weight="normal" fill="#000" textLength="37.19" lengthAdjust="spacingAndGlyphs" stroke="#000" stroke-width="0.3">Time (Min)</text>
<text x="350.40" y="461.41" font-family='"Liberation Serif", serif' font-size="11" font-weight="bold" fill="#000" textLength="173.79" lengthAdjust="spacingAndGlyphs" transform="rotate(-90 350.40 461.41)" stroke="#000" stroke-width="0.25">left ventricular end-diastolic pressure</text>
<text x="363.40" y="430.08" font-family='"Liberation Serif", serif' font-size="11" font-weight="bold" fill="#000" textLength="112.96" lengthAdjust="spacingAndGlyphs" transform="rotate(-90 363.40 430.08)" stroke="#000" stroke-width="0.25">(LVEDP, % of baseline)</text>
<rect x="548.50" y="404.30" width="42.70" height="54.80" fill="#fff" stroke="#000" stroke-width="1.3"/>
<rect x="595.50" y="418.10" width="42.80" height="41.00" fill="#000" stroke="#000" stroke-width="1.3"/>
<line x1="569.30" y1="404.30" x2="569.30" y2="402.30" stroke="#000" stroke-width="1.3" stroke-linecap="butt"/>
<line x1="560.90" y1="402.30" x2="580.00" y2="402.30" stroke="#000" stroke-width="1.3" stroke-linecap="butt"/>
<line x1="616.50" y1="418.10" x2="616.50" y2="416.10" stroke="#000" stroke-width="1.3" stroke-linecap="butt"/>
<line x1="606.80" y1="416.10" x2="626.60" y2="416.10" stroke="#000" stroke-width="1.3" stroke-linecap="butt"/>
<line x1="544.60" y1="389.10" x2="544.60" y2="459.10" stroke="#000" stroke-width="1.3" stroke-linecap="butt"/>
<line x1="544.60" y1="459.10" x2="642.70" y2="459.10" stroke="#000" stroke-width="1.3" stroke-linecap="butt"/>
<line x1="542.40" y1="389.10" x2="544.60" y2="389.10" stroke="#000" stroke-width="1.1" stroke-linecap="butt"/>
<text x="529.57" y="391.30" font-family='"Liberation Serif", serif' font-size="6.4" font-weight="bold" fill="#000" textLength="12.68" lengthAdjust="spacingAndGlyphs" stroke="#000" stroke-width="0.3">3000</text>
<line x1="542.40" y1="412.43" x2="544.60" y2="412.43" stroke="#000" stroke-width="1.1" stroke-linecap="butt"/>
<text x="529.53" y="414.63" font-family='"Liberation Serif", serif' font-size="6.4" font-weight="bold" fill="#000" textLength="12.71" lengthAdjust="spacingAndGlyphs" stroke="#000" stroke-width="0.3">2000</text>
<line x1="542.40" y1="435.77" x2="544.60" y2="435.77" stroke="#000" stroke-width="1.1" stroke-linecap="butt"/>
<text x="529.28" y="437.97" font-family='"Liberation Serif", serif' font-size="6.4" font-weight="bold" fill="#000" textLength="12.96" lengthAdjust="spacingAndGlyphs" stroke="#000" stroke-width="0.3">1000</text>
<line x1="542.40" y1="459.10" x2="544.60" y2="459.10" stroke="#000" stroke-width="1.1" stroke-linecap="butt"/>
<text x="539.04" y="461.30" font-family='"Liberation Serif", serif' font-size="6.4" font-weight="bold" fill="#000" textLength="3.20" lengthAdjust="spacingAndGlyphs" stroke="#000" stroke-width="0.3">0</text>
<text x="524.90" y="451.36" font-family='"Liberation Serif", serif' font-size="6.3" font-weight="bold" fill="#000" textLength="57.85" lengthAdjust="spacingAndGlyphs" transform="rotate(-90 524.90 451.36)" stroke="#000" stroke-width="0.35">AUC (arbitary unit)</text>
<polyline points="569.30,401.40 569.30,394.10 616.20,394.10 616.20,416.00" fill="none" stroke="#000" stroke-width="1.1" stroke-linejoin="miter"/>
<text x="582.84" y="392.70" font-family='"Liberation Sans", sans-serif' font-size="6.5" font-weight="bold" fill="#000" textLength="25.95" lengthAdjust="spacingAndGlyphs" stroke="#000" stroke-width="0.45">P&lt;0.001</text>
<polyline points="399.80,415.20 442.20,407.00 484.80,381.90 516.90,345.40 527.00,315.20 537.60,323.60 580.40,344.50 644.10,361.00" fill="none" stroke="#000" stroke-width="1.15" stroke-linejoin="round"/>
<polyline points="399.80,415.20 442.20,404.40 484.80,378.70 516.90,351.30 527.00,333.30 537.60,342.00 580.40,355.80 644.10,369.20" fill="none" stroke="#000" stroke-width="1.15" stroke-linejoin="round" stroke-dasharray="2.2,1.6"/>
<line x1="399.80" y1="407.00" x2="399.80" y2="422.80" stroke="#000" stroke-width="1.15" stroke-linecap="butt"/>
<line x1="397.70" y1="407.00" x2="401.90" y2="407.00" stroke="#000" stroke-width="1.15" stroke-linecap="butt"/>
<line x1="397.70" y1="422.80" x2="401.90" y2="422.80" stroke="#000" stroke-width="1.15" stroke-linecap="butt"/>
<line x1="442.20" y1="393.20" x2="442.20" y2="418.60" stroke="#000" stroke-width="1.15" stroke-linecap="butt"/>
<line x1="440.10" y1="393.20" x2="444.30" y2="393.20" stroke="#000" stroke-width="1.15" stroke-linecap="butt"/>
<line x1="440.10" y1="418.60" x2="444.30" y2="418.60" stroke="#000" stroke-width="1.15" stroke-linecap="butt"/>
<line x1="484.80" y1="365.00" x2="484.80" y2="396.70" stroke="#000" stroke-width="1.15" stroke-linecap="butt"/>
<line x1="482.70" y1="365.00" x2="486.90" y2="365.00" stroke="#000" stroke-width="1.15" stroke-linecap="butt"/>
<line x1="482.70" y1="396.70" x2="486.90" y2="396.70" stroke="#000" stroke-width="1.15" stroke-linecap="butt"/>
<line x1="516.90" y1="339.00" x2="516.90" y2="358.00" stroke="#000" stroke-width="1.15" stroke-linecap="butt"/>
<line x1="514.80" y1="339.00" x2="519.00" y2="339.00" stroke="#000" stroke-width="1.15" stroke-linecap="butt"/>
<line x1="514.80" y1="358.00" x2="519.00" y2="358.00" stroke="#000" stroke-width="1.15" stroke-linecap="butt"/>
<line x1="527.00" y1="306.50" x2="527.00" y2="346.40" stroke="#000" stroke-width="1.15" stroke-linecap="butt"/>
<line x1="524.90" y1="346.40" x2="529.10" y2="346.40" stroke="#000" stroke-width="1.15" stroke-linecap="butt"/>
<line x1="537.60" y1="318.50" x2="537.60" y2="328.00" stroke="#000" stroke-width="1.15" stroke-linecap="butt"/>
<line x1="535.50" y1="328.00" x2="539.70" y2="328.00" stroke="#000" stroke-width="1.15" stroke-linecap="butt"/>
<line x1="537.60" y1="334.00" x2="537.60" y2="350.00" stroke="#000" stroke-width="1.15" stroke-linecap="butt"/>
<line x1="535.50" y1="334.00" x2="539.70" y2="334.00" stroke="#000" stroke-width="1.15" stroke-linecap="butt"/>
<line x1="535.50" y1="350.00" x2="539.70" y2="350.00" stroke="#000" stroke-width="1.15" stroke-linecap="butt"/>
<line x1="580.40" y1="335.00" x2="580.40" y2="350.60" stroke="#000" stroke-width="1.15" stroke-linecap="butt"/>
<line x1="578.30" y1="350.60" x2="582.50" y2="350.60" stroke="#000" stroke-width="1.15" stroke-linecap="butt"/>
<line x1="580.40" y1="350.60" x2="580.40" y2="361.00" stroke="#000" stroke-width="1.15" stroke-linecap="butt"/>
<line x1="578.30" y1="361.00" x2="582.50" y2="361.00" stroke="#000" stroke-width="1.15" stroke-linecap="butt"/>
<line x1="644.10" y1="354.00" x2="644.10" y2="377.00" stroke="#000" stroke-width="1.15" stroke-linecap="butt"/>
<line x1="642.00" y1="354.00" x2="646.20" y2="354.00" stroke="#000" stroke-width="1.15" stroke-linecap="butt"/>
<line x1="642.00" y1="377.00" x2="646.20" y2="377.00" stroke="#000" stroke-width="1.15" stroke-linecap="butt"/>
<circle cx="399.80" cy="415.20" r="1.9" fill="#fff" stroke="#000" stroke-width="1.2"/>
<circle cx="442.20" cy="407.00" r="1.9" fill="#fff" stroke="#000" stroke-width="1.2"/>
<circle cx="484.80" cy="381.90" r="1.9" fill="#fff" stroke="#000" stroke-width="1.2"/>
<circle cx="516.90" cy="345.40" r="1.9" fill="#fff" stroke="#000" stroke-width="1.2"/>
<circle cx="527.00" cy="315.20" r="1.9" fill="#fff" stroke="#000" stroke-width="1.2"/>
<circle cx="537.60" cy="323.60" r="1.9" fill="#fff" stroke="#000" stroke-width="1.2"/>
<circle cx="580.40" cy="344.50" r="1.9" fill="#fff" stroke="#000" stroke-width="1.2"/>
<circle cx="644.10" cy="361.00" r="1.9" fill="#fff" stroke="#000" stroke-width="1.2"/>
<circle cx="399.80" cy="415.20" r="2.3" fill="#000"/>
<circle cx="442.20" cy="404.40" r="2.3" fill="#000"/>
<circle cx="484.80" cy="378.70" r="2.3" fill="#000"/>
<circle cx="516.90" cy="351.30" r="2.3" fill="#000"/>
<circle cx="527.00" cy="333.30" r="2.3" fill="#000"/>
<circle cx="537.60" cy="342.00" r="2.3" fill="#000"/>
<circle cx="580.40" cy="355.80" r="2.3" fill="#000"/>
<circle cx="644.10" cy="369.20" r="2.3" fill="#000"/>
<line x1="527.00" y1="302.40" x2="527.00" y2="307.00" stroke="#000" stroke-width="1.3" stroke-linecap="round"/>
<line x1="525.01" y1="303.55" x2="528.99" y2="305.85" stroke="#000" stroke-width="1.3" stroke-linecap="round"/>
<line x1="528.99" y1="303.55" x2="525.01" y2="305.85" stroke="#000" stroke-width="1.3" stroke-linecap="round"/>
<line x1="539.40" y1="313.40" x2="539.40" y2="318.00" stroke="#000" stroke-width="1.3" stroke-linecap="round"/>
<line x1="537.41" y1="314.55" x2="541.39" y2="316.85" stroke="#000" stroke-width="1.3" stroke-linecap="round"/>
<line x1="541.39" y1="314.55" x2="537.41" y2="316.85" stroke="#000" stroke-width="1.3" stroke-linecap="round"/>
<line x1="580.40" y1="330.20" x2="580.40" y2="334.80" stroke="#000" stroke-width="1.3" stroke-linecap="round"/>
<line x1="578.41" y1="331.35" x2="582.39" y2="333.65" stroke="#000" stroke-width="1.3" stroke-linecap="round"/>
<line x1="582.39" y1="331.35" x2="578.41" y2="333.65" stroke="#000" stroke-width="1.3" stroke-linecap="round"/>
</svg>
</body></html>
